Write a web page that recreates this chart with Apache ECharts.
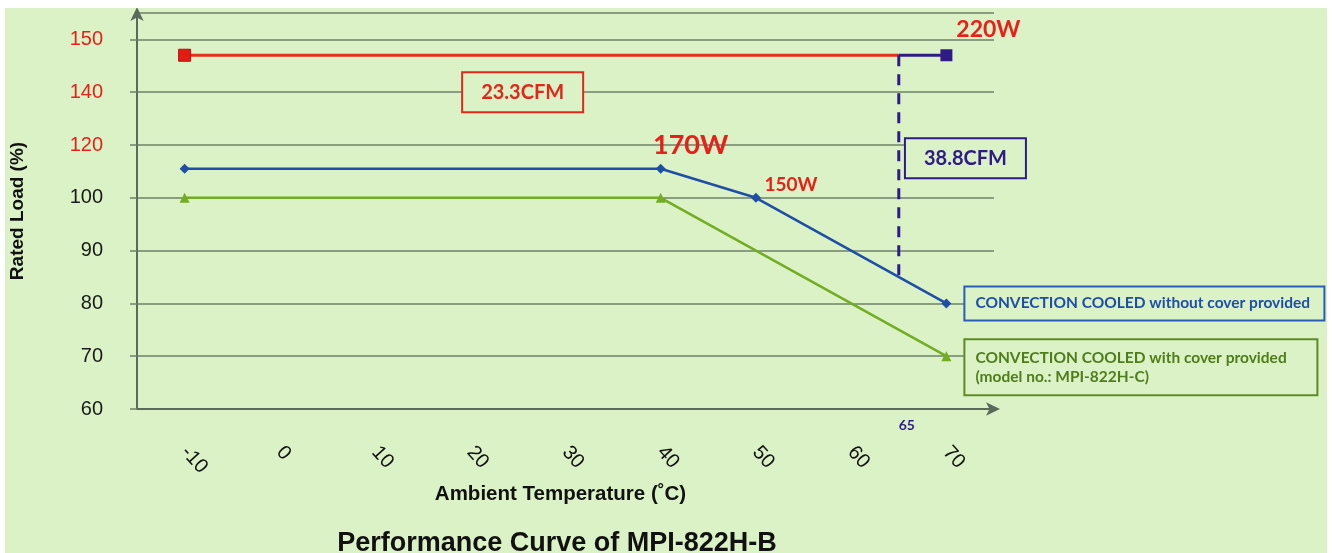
<!DOCTYPE html>
<html>
<head>
<meta charset="utf-8">
<script src="https://cdn.jsdelivr.net/npm/echarts@6/dist/echarts.min.js"></script>
<style>
  html, body { margin: 0; padding: 0; background: #fff; }
  #wrap { position: relative; width: 1332px; height: 553px; background: #fff; }
  #chart { position: absolute; left: 5px; top: 8px; width: 1322px; height: 545px; background: #daf2c6; }
</style>
</head>
<body>
<div id="wrap"><div id="chart"></div></div>
<script>
// y axis is not linear: ticks are spaced evenly
const yTicks = [60, 70, 80, 90, 100, 120, 140, 150]
const redTicks = [120, 140, 150]
const xTicks = [-10, 0, 10, 20, 30, 40, 50, 60, 70]

// without cover (blue)
const tempBlue = [-10, 40, 50, 70]
const loadBlue = [111, 111, 100, 80]
// with cover (green)
const tempGreen = [-10, 40, 70]
const loadGreen = [100, 100, 70]
// forced air 23.3CFM (red) and 38.8CFM (purple)
const tempRed = [-10, 65]
const loadRed = [147, 147]
const tempPurple = [65, 70]
const loadPurple = [147, 147]
const tempDash = [65, 65]
const loadDash = [147, 85]

const wattLabels = { blue40: "170W", blue50: "150W", purple70: "220W" }
const cfmLabels = [
  { temp: 25.5, load: 140, text: "23.3CFM", color: "#e0281a" },
  { temp: 72, load: 115, text: "38.8CFM", color: "#2f1b86" },
]
const legendBlue = "CONVECTION COOLED without cover provided"
const legendGreen = "CONVECTION COOLED with cover provided\n(model no.: MPI-822H-C)"

function toAxis(v) {
  for (let i = 0; i < yTicks.length - 1; i++) {
    if (v <= yTicks[i + 1]) return i + (v - yTicks[i]) / (yTicks[i + 1] - yTicks[i])
  }
  return yTicks.length - 1
}
const pts = (xs, ys) => xs.map((x, i) => [x, toAxis(ys[i])])

const calibri = "Lato, 'Open Sans', sans-serif"
const arial = "'Liberation Sans', Arial, sans-serif"
const gridColor = "#6e8168"
const bg = "#daf2c6"

const chart = echarts.init(document.getElementById("chart"))

const blueData = pts(tempBlue, loadBlue).map((p, i) => {
  const d = { value: p }
  if (tempBlue[i] === 40) {
    d.label = { show: true, formatter: wattLabels.blue40, position: "inside", offset: [30, -23],
      color: "#e8201a", fontSize: 27, fontWeight: "bold", fontFamily: calibri }
  }
  if (tempBlue[i] === 50) {
    d.label = { show: true, formatter: wattLabels.blue50, position: "inside", offset: [35, -13],
      color: "#e8201a", fontSize: 19, fontWeight: "bold", fontFamily: calibri }
  }
  if (i === tempBlue.length - 1) {
    d.label = { show: true, formatter: legendBlue, position: "right", distance: 14,
      color: "#1f4ea6", fontSize: 15.5, fontWeight: "bold", fontFamily: calibri,
      backgroundColor: bg, borderColor: "#2a5db8", borderWidth: 2,
      padding: [7, 10], width: 338, lineHeight: 18 }
  }
  return d
})

const greenData = pts(tempGreen, loadGreen).map((p, i) => {
  const d = { value: p }
  if (i === tempGreen.length - 1) {
    d.label = { show: true, formatter: legendGreen, position: "right", distance: 14, offset: [0, 11],
      color: "#4f7d1a", fontSize: 15.5, fontWeight: "bold", fontFamily: calibri,
      backgroundColor: bg, borderColor: "#5f8a25", borderWidth: 2,
      padding: [8, 10], width: 331, lineHeight: 19 }
  }
  return d
})

chart.setOption({
  animation: false,
  title: {
    text: "Performance Curve of MPI-822H-B",
    left: 547, top: 517, textAlign: "center",
    textStyle: { fontFamily: arial, fontSize: 27, fontWeight: "bold", color: "#111" },
  },
  grid: { left: 132, right: 333, top: 5, bottom: 144, outerBoundsMode: "none", containLabel: false },
  xAxis: {
    type: "value", min: -15, max: 75, interval: 5,
    name: "Ambient Temperature (˚C)", nameLocation: "middle", nameGap: 73,
    nameTextStyle: { fontFamily: arial, fontSize: 20.5, fontWeight: "bold", color: "#111", padding: [0, 10, 0, 0] },
    axisLine: { show: true, onZero: false, symbol: ["none", "arrow"], symbolSize: [10, 14], symbolOffset: [0, 6],
      lineStyle: { color: "#5b6b5b", width: 2 } },
    axisTick: { show: false },
    splitLine: { show: false },
    axisLabel: {
      rotate: -48, margin: 40, fontSize: 20, color: "#111", fontFamily: arial,
      formatter: (v) => (xTicks.includes(v) ? String(v) : ""),
    },
  },
  yAxis: {
    type: "value", min: 0, max: 7.5, interval: 1,
    name: "Rated Load (%)", nameLocation: "middle", nameGap: 110, nameRotate: 90,
    nameTextStyle: { fontFamily: arial, fontSize: 19, fontWeight: "bold", color: "#111" },
    axisLine: { show: true, onZero: false, symbol: ["none", "arrow"], symbolSize: [10, 14], symbolOffset: [0, 6],
      lineStyle: { color: "#5b6b5b", width: 2 } },
    axisTick: { show: true, length: 7, lineStyle: { color: gridColor, width: 1.5 } },
    splitLine: { show: true, lineStyle: { color: gridColor, width: 1.5 } },
    axisLabel: {
      margin: 34, fontSize: 20, fontFamily: arial, showMaxLabel: false,
      formatter: (v) => (Number.isInteger(v) && yTicks[v] !== undefined ? String(yTicks[v]) : ""),
      color: (v) => (redTicks.includes(yTicks[v]) ? "#e8201a" : "#1a1a1a"),
    },
  },
  series: [
    {
      type: "line", data: pts(tempRed, loadRed),
      lineStyle: { color: "#e2311d", width: 3 },
      symbol: "rect", symbolSize: (v, p) => (p.dataIndex === 0 ? 12 : 0),
      itemStyle: { color: "#e31b13", borderColor: "#b3130e", borderWidth: 1 },
    },
    {
      type: "line", data: pts(tempPurple, loadPurple).map((p, i) => {
        const d = { value: p }
        if (i === 1) d.label = { show: true, formatter: wattLabels.purple70, position: "inside", offset: [42, -26],
          color: "#e8201a", fontSize: 23, fontWeight: "bold", fontFamily: calibri }
        return d
      }),
      lineStyle: { color: "#2f1b86", width: 3 },
      symbol: "rect", symbolSize: (v, p) => (p.dataIndex === 1 ? 12 : 0),
      itemStyle: { color: "#2f1b86" },
    },
    {
      type: "line", data: pts(tempDash, loadDash), symbol: "none",
      lineStyle: { color: "#2f1b86", width: 3, type: [11, 8] },
    },
    {
      type: "line", data: greenData, z: 3,
      lineStyle: { color: "#72ad22", width: 2.5 },
      symbol: "triangle", symbolSize: 10,
      itemStyle: { color: "#72ad22" },
    },
    {
      type: "line", data: blueData, z: 4,
      lineStyle: { color: "#1f4ea6", width: 2.5 },
      symbol: "diamond", symbolSize: 10,
      itemStyle: { color: "#1f4ea6" },
    },
    {
      type: "scatter", symbolSize: 0, z: 5,
      itemStyle: { opacity: 1 },
      data: cfmLabels.map((c) => ({
        value: [c.temp, toAxis(c.load)],
        label: { show: true, formatter: c.text, position: "inside",
          color: c.color, fontSize: 20, fontWeight: "bold", fontFamily: calibri,
          backgroundColor: bg, borderColor: c.color, borderWidth: 2,
          padding: [9, 18] },
      })).concat([{
        value: [65, 0],
        label: { show: true, formatter: "65", position: "inside", offset: [8, 16],
          color: "#2f1b86", fontSize: 14, fontWeight: "bold", fontFamily: calibri },
      }]),
    },
  ],
})
</script>
</body>
</html>
